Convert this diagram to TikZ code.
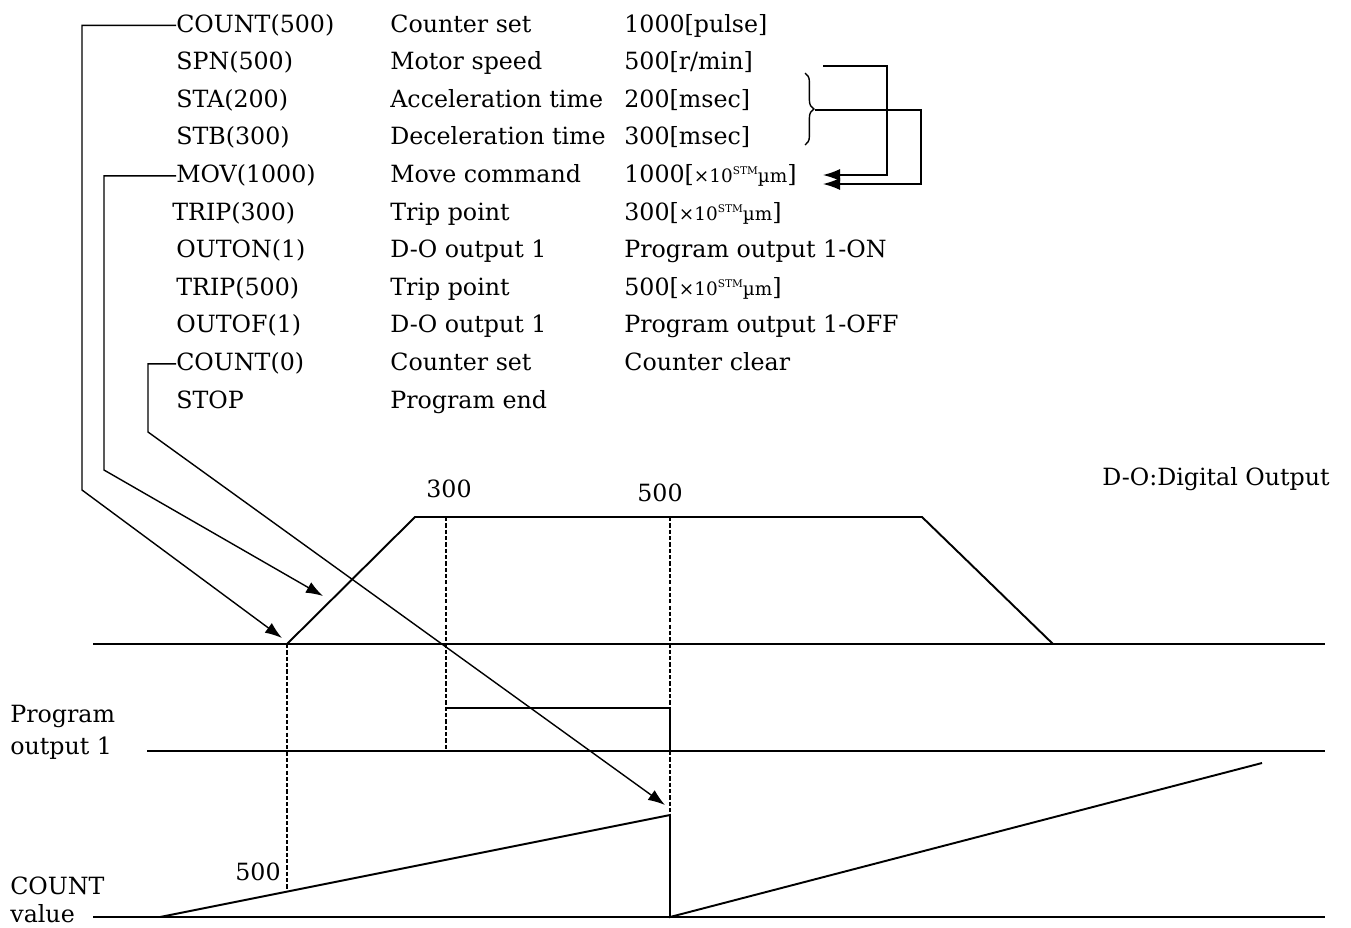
\documentclass[tikz,border=0pt]{standalone}
\usepackage{fontspec}
\setmainfont{DejaVu Serif}
\usepackage{tikz}
\usetikzlibrary{positioning, arrows.meta, decorations.pathreplacing}
\newcommand{\xum}{{\fontsize{10.5}{12}\selectfont×10\raisebox{0.8ex}{\fontsize{6}{7}\selectfont STM}µm}}

\begin{document}
\begin{tikzpicture}[x=0.02cm, y=-0.02cm,
                  txt/.style={anchor=base west, inner sep=0pt, text height=11pt, text depth=3.5pt,
                              font=\fontsize{13.5}{18}\selectfont},
                  lbl/.style={inner sep=0pt, font=\fontsize{13.5}{18}\selectfont},
                  ln/.style={line width=1.1pt},
                  dsh/.style={line width=1.4pt, dash pattern=on 2.4pt off 1.2pt},
                  conn/.style={line width=0.8pt},
                  arr/.style={conn, -{Latex[length=0.34cm, width=0.24cm]}},
            ]
            \useasboundingbox (0,0) rectangle (1351,927);

            % Program list: command / meaning / value
            \node[txt] (c1) at (176,32) {COUNT(500)};
            \node[txt] (d1) at (390,32) {Counter set};
            \node[txt] (v1) at (624,32) {1000[pulse]};

            \node[txt] (c2) at (176,69.6) {SPN(500)};
            \node[txt] (d2) at (390,69.6) {Motor speed};
            \node[txt] (v2) at (624,69.6) {500[r/min]};

            \node[txt] (c3) at (176,107.2) {STA(200)};
            \node[txt] (d3) at (390,107.2) {Acceleration time};
            \node[txt] (v3) at (624,107.2) {200[msec]};

            \node[txt] (c4) at (176,144.8) {STB(300)};
            \node[txt] (d4) at (390,144.8) {Deceleration time};
            \node[txt] (v4) at (624,144.8) {300[msec]};

            \node[txt] (c5) at (176,182.4) {MOV(1000)};
            \node[txt] (d5) at (390,182.4) {Move command};
            \node[txt] (v5) at (624,182.4) {1000[\xum]};

            \node[txt] (c6) at (172,220) {TRIP(300)};
            \node[txt] (d6) at (390,220) {Trip point};
            \node[txt] (v6) at (624,220) {300[\xum]};

            \node[txt] (c7) at (176,257.6) {OUTON(1)};
            \node[txt] (d7) at (390,257.6) {D-O output 1};
            \node[txt] (v7) at (624,257.6) {Program output 1-ON};

            \node[txt] (c8) at (176,295.2) {TRIP(500)};
            \node[txt] (d8) at (390,295.2) {Trip point};
            \node[txt] (v8) at (624,295.2) {500[\xum]};

            \node[txt] (c9) at (176,332.8) {OUTOF(1)};
            \node[txt] (d9) at (390,332.8) {D-O output 1};
            \node[txt] (v9) at (624,332.8) {Program output 1-OFF};

            \node[txt] (c10) at (176,370.4) {COUNT(0)};
            \node[txt] (d10) at (390,370.4) {Counter set};
            \node[txt] (v10) at (624,370.4) {Counter clear};

            \node[txt] (c11) at (176,408) {STOP};
            \node[txt] (d11) at (390,408) {Program end};

            % speed and accel/decel times feed the move
            \draw[decorate, decoration={brace, amplitude=5pt}, conn] (805,73) -- (805,145);
            \coordinate (brc) at (815,110);
            \coordinate (spd) at (823,66);
            \coordinate (mvA) at (823,175);
            \coordinate (mvB) at (823,184);
            \draw[arr] (spd) -- ++(64,0) |- (mvA);
            \draw[arr] (brc) -- ++(106,0) |- (mvB);

            % chart side labels
            \node[lbl, anchor=base east] (dol) at (1330,485) {D-O:Digital Output};
            \node[lbl] (t300) at (449,489) {300};
            \node[lbl] (t500) at (660,493) {500};
            \node[lbl, anchor=east] (n500) at (281,872) {500};
            \node[lbl, anchor=west, align=left] (pout) at (10,732) {Program\\output 1};
            \node[lbl, anchor=west, align=left, font=\fontsize{13.5}{16}\selectfont] (cval) at (10,900) {COUNT\\value};

            % speed profile
            \coordinate (acc0) at (287,644);
            \coordinate (acc1) at (415,517);
            \coordinate (dec0) at (922,517);
            \coordinate (dec1) at (1053,644);
            \draw[ln] (93,644) -- (1325,644);
            \draw[ln] (acc0) -- (acc1) -- (dec0) -- (dec1);

            % trip points
            \draw[dsh] (acc0) -- (287,891);
            \draw[dsh] (446,517) -- (446,751);
            \draw[dsh] (670,517) -- (670,815);

            % program output 1
            \draw[ln] (147,751) -- (1325,751);
            \draw[ln] (446,708) -- (670,708) -- (670,751);

            % count value
            \draw[ln] (93,917) -- (1325,917);
            \draw[ln] (160,917) -- (670,815) -- (670,917) -- (1262,763);

            % commands pointing at the chart
            \coordinate (tipA) at (282,638);
            \coordinate (tipB) at (323,596);
            \coordinate (tipC) at (665,805);
            \draw[arr] (c1.west) -| (82,490) -- (tipA);
            \draw[arr] (c5.west) -| (104,470) -- (tipB);
            \draw[arr] (c10.west) -| (148,432) -- (tipC);

      \end{tikzpicture}
\end{document}
